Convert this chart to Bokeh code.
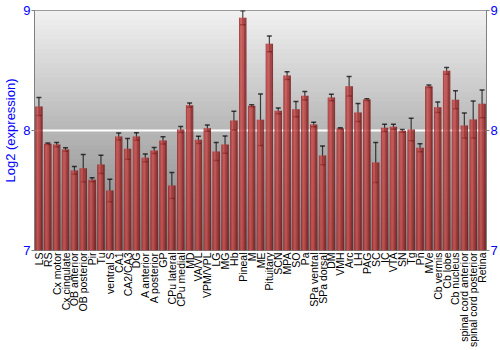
import numpy as np
from bokeh.plotting import figure
from bokeh.models import (ColumnDataSource, FactorRange, Range1d, LinearAxis,
                          Whisker, TeeHead, FixedTicker, BoxAnnotation)
from bokeh.transform import dodge
from bokeh.embed import file_html
from bokeh.resources import INLINE

labels = ["LS", "RS", "Cx motor", "Cx cingulate", "OB anterior", "OB posterior",
          "Pir", "Tu", "ventral S", "CA1", "CA2/CA3", "DG", "A anterior",
          "A posterior", "GP", "CPu lateral", "CPu medial", "MD", "VA/VL",
          "VPM/VPL", "LG", "MG", "Hb", "Pineal", "M", "ME", "Pituitary", "SCN",
          "MPA", "SO", "Pa", "SPa ventral", "SPa dorsal", "DM", "VMH", "Arc",
          "LH", "PAG", "SC", "IC", "VTA", "SN", "Tg", "Pn", "MVe", "Cb vermis",
          "Cb lobe", "Cb nucleus", "spinal cord anterior", "spinal cord posterior",
          "Retina"]

values = [8.20, 7.889, 7.883, 7.842, 7.667, 7.686, 7.589, 7.717, 7.50, 7.95,
          7.847, 7.95, 7.772, 7.833, 7.917, 7.542, 8.008, 8.211, 7.922, 8.019,
          7.825, 7.883, 8.083, 8.939, 8.206, 8.089, 8.722, 8.164, 8.458, 8.178,
          8.289, 8.05, 7.792, 8.275, 8.017, 8.369, 8.15, 8.258, 7.733, 8.022,
          8.031, 7.997, 8.008, 7.856, 8.369, 8.194, 8.497, 8.256, 8.042, 8.092,
          8.222]

errors = [0.075, 0.006, 0.018, 0.014, 0.032, 0.115, 0.017, 0.076, 0.094, 0.030,
          0.086, 0.032, 0.033, 0.025, 0.030, 0.108, 0.025, 0.018, 0.030, 0.026,
          0.074, 0.072, 0.078, 0.058, 0.008, 0.215, 0.065, 0.024, 0.032, 0.063,
          0.035, 0.018, 0.078, 0.028, 0.005, 0.082, 0.076, 0.007, 0.167, 0.030,
          0.021, 0.011, 0.094, 0.033, 0.011, 0.043, 0.028, 0.075, 0.104, 0.154,
          0.115]

y_ticks = [7, 8, 9]
y_label = "Log2 (expression)"

vals = np.array(values)
errs = np.array(errors)
src = ColumnDataSource(dict(x=labels, top=vals, upper=vals + errs, lower=vals - errs))

p = figure(x_range=FactorRange(*labels, range_padding=0), y_range=Range1d(7, 9),
           width=500, height=350, output_backend="svg", toolbar_location=None,
           min_border_left=0, min_border_right=0, min_border_top=10,
           min_border_bottom=0)
p.background_fill_color = "white"
p.border_fill_color = "white"
p.outline_line_color = "#808080"
p.outline_line_width = 1

# background vertical gradient
n = 50
edges = np.linspace(7, 9, n + 1)
step = edges[1] - edges[0]
c_top = np.array([0xf2, 0xf2, 0xf2])
c_bot = np.array([0x7c, 0x7c, 0x7c])
for i in range(n):
    t = (i + 0.5) / n
    c = (c_bot + (c_top - c_bot) * t).astype(int)
    col = "#%02x%02x%02x" % tuple(c)
    top = edges[i + 1] + (step * 0.6 if i < n - 1 else 0)
    b = BoxAnnotation(bottom=edges[i], top=top, fill_color=col,
                      fill_alpha=1, line_alpha=0, level="image")
    p.add_layout(b)

# grid
p.xgrid.visible = False
p.ygrid.ticker = FixedTicker(ticks=[8])
p.ygrid.grid_line_color = "white"
p.ygrid.grid_line_width = 2

# bars with horizontal gradient (stripes)
bar_w = 0.82
stripe_cols = ["#9a2626", "#b53838", "#c44545", "#c84a4a", "#c24444",
               "#b63a3a", "#a63030", "#952727", "#862020", "#761818"]
ns = len(stripe_cols)
sw = bar_w / ns
for k, col in enumerate(stripe_cols):
    off = -bar_w / 2 + sw * (k + 0.5)
    p.vbar(x=dodge("x", off, range=p.x_range), top="top", bottom=7, width=sw * 1.1,
           source=src, fill_color=col, line_color=None)

# error bars
wh = Whisker(base="x", upper="upper", lower="lower", source=src,
             line_color="black", line_alpha=0.7, line_width=1.2,
             upper_head=TeeHead(size=5, line_color="black", line_alpha=0.7, line_width=1.5),
             lower_head=TeeHead(size=5, line_color="black", line_alpha=0.9, line_width=1.5))
p.add_layout(wh)

font = "Liberation Sans"

# left axis
ya = p.yaxis[0]
ya.ticker = FixedTicker(ticks=y_ticks)
ya.axis_label = y_label
ya.axis_label_text_color = "#0000ff"
ya.axis_label_text_font = font
ya.axis_label_text_font_style = "normal"
ya.axis_label_text_font_size = "13px"
ya.axis_label_standoff = 2
ya.major_label_text_color = "#0000ff"
ya.major_label_text_font = font
ya.major_label_text_font_size = "13px"
ya.major_label_standoff = 1
ya.axis_line_color = "#808080"
ya.major_tick_line_color = "#808080"
ya.major_tick_in = 0
ya.major_tick_out = 3
ya.minor_tick_line_color = None

# right axis
ra = LinearAxis(ticker=FixedTicker(ticks=y_ticks))
ra.major_label_text_color = "#0000ff"
ra.major_label_text_font = font
ra.major_label_text_font_size = "13px"
ra.major_label_standoff = 1
ra.axis_line_color = "#808080"
ra.major_tick_line_color = "#808080"
ra.major_tick_in = 0
ra.major_tick_out = 3
ra.minor_tick_line_color = None
p.add_layout(ra, "right")

# bottom axis
xa = p.xaxis[0]
xa.major_label_orientation = np.pi / 2
xa.major_label_text_font = font
xa.major_label_text_font_size = "10.5px"
xa.major_label_text_color = "black"
xa.major_label_standoff = -4
xa.axis_line_color = None
xa.major_tick_line_color = None
xa.minor_tick_line_color = None

open("out.html", "w").write(file_html(p, INLINE))
